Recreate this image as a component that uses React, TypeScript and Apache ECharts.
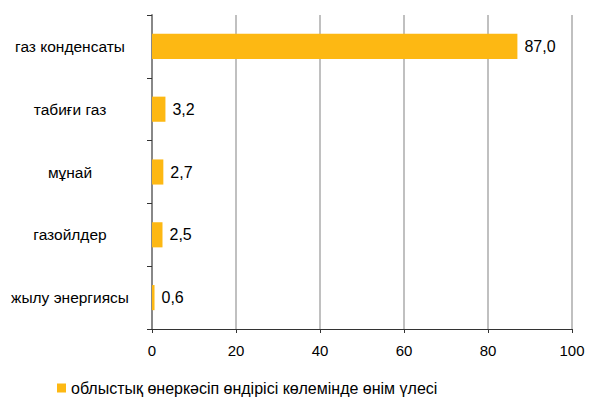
import React, { useEffect, useRef } from "react";
import * as echarts from "echarts";

const categories = ["газ конденсаты", "табиғи газ", "мұнай", "газойлдер", "жылу энергиясы"];
const values = [87.0, 3.2, 2.7, 2.5, 0.6];
const seriesName = "облыстық өнеркәсіп өндірісі көлемінде өнім үлесі";
const xMin = 0;
const xMax = 100;
const xInterval = 20;

export default function App() {
  const ref = useRef<HTMLDivElement>(null);
  useEffect(() => {
    if (!ref.current) return;
    const chart = echarts.init(ref.current, null, { renderer: "svg" });
    const font = "Liberation Sans, Arial, sans-serif";
    chart.setOption({
      animation: false,
      backgroundColor: "#ffffff",
      grid: { left: 152, right: 22, top: 15, bottom: 70, containLabel: false },
      legend: {
        data: [seriesName],
        left: 57,
        top: 379,
        padding: 0,
        icon: "rect",
        itemWidth: 9,
        itemHeight: 9,
        itemGap: 6,
        textStyle: { fontFamily: font, fontSize: 16, lineHeight: 18, color: "#000" },
      },
      xAxis: {
        type: "value",
        min: xMin,
        max: xMax,
        interval: xInterval,
        axisLine: { show: true, lineStyle: { color: "#333", width: 1 } },
        axisTick: { show: true, length: 4, lineStyle: { color: "#333" } },
        axisLabel: {
          fontFamily: font,
          fontSize: 15,
          color: "#000",
          margin: 14,
        },
        splitLine: { show: true, lineStyle: { color: "#c0c0c0", width: 2 } },
      },
      yAxis: {
        type: "category",
        inverse: true,
        data: categories,
        axisLine: { show: true, lineStyle: { color: "#888", width: 2 } },
        axisTick: { show: true, length: 5, lineStyle: { color: "#333" } },
        axisLabel: {
          fontFamily: font,
          fontSize: 15.5,
          color: "#000",
          align: "center",
          margin: 82,
        },
      },
      series: [
        {
          name: seriesName,
          type: "bar",
          data: values,
          barWidth: "40%",
          itemStyle: { color: "#FDB813" },
          label: {
            show: true,
            position: "right",
            distance: 7,
            fontFamily: font,
            fontSize: 16,
            color: "#000",
            formatter: (p: any) => p.value.toFixed(1).replace(".", ","),
          },
        },
      ],
    });
    return () => chart.dispose();
  }, []);
  return <div ref={ref} style={{ width: 594, height: 399, position: "absolute", left: 0, top: 0 }} />;
}
